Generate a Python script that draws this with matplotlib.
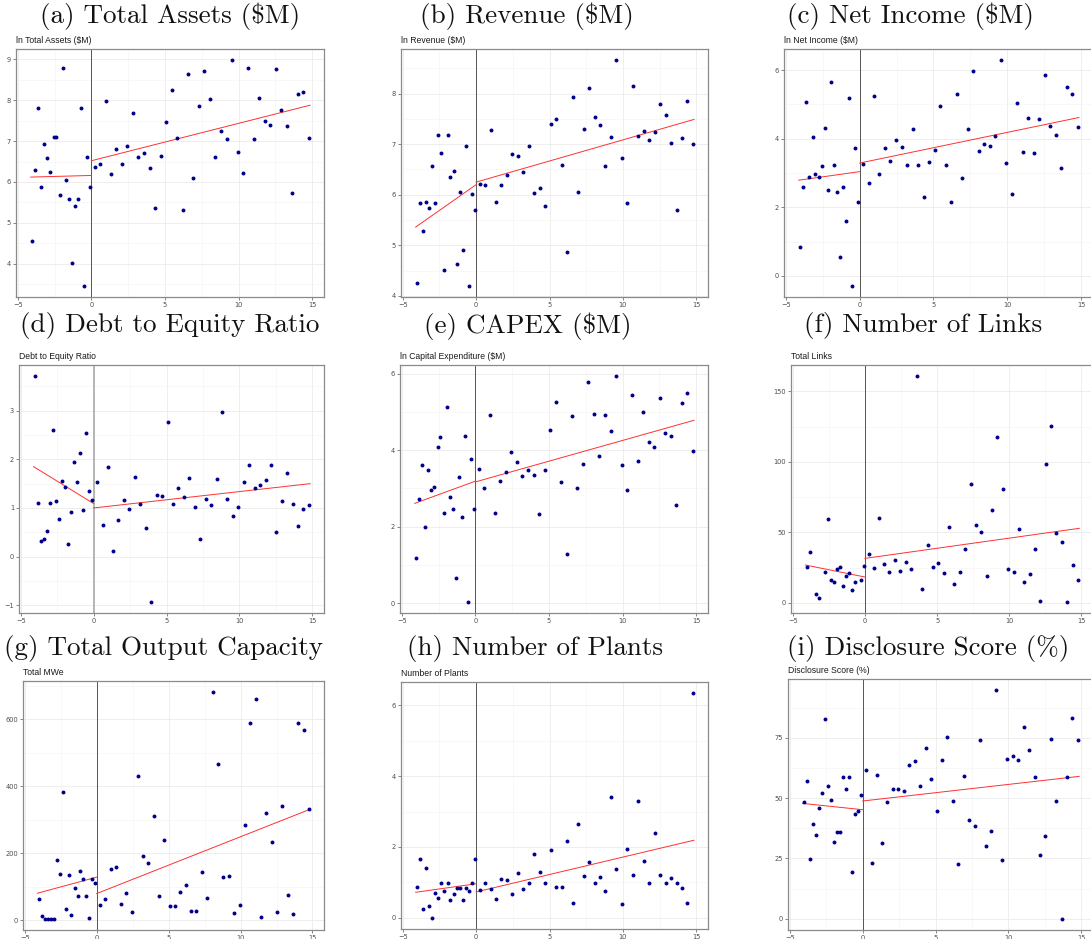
import numpy as np
import matplotlib
matplotlib.use("Agg")
import matplotlib.pyplot as plt
from matplotlib.ticker import MultipleLocator, AutoMinorLocator
from matplotlib.transforms import offset_copy

# ---------------- data ----------------
x_left = [-4.02, -3.81, -3.61, -3.40, -3.19, -2.99, -2.78, -2.57, -2.37, -2.16,
          -1.95, -1.75, -1.54, -1.33, -1.13, -0.92, -0.71, -0.51, -0.30, -0.09]
x_right = [0.25, 0.61, 0.98, 1.34, 1.70, 2.07, 2.45, 2.84, 3.20, 3.59,
           3.95, 4.34, 4.70, 5.07, 5.45, 5.82, 6.20, 6.57, 6.93, 7.32,
           7.68, 8.07, 8.43, 8.80, 9.18, 9.55, 9.93, 10.30, 10.66, 11.05,
           11.41, 11.80, 12.16, 12.52, 12.91, 13.27, 13.66, 14.02, 14.39, 14.77]
fit_x_left = [-4.12, 0.0]
fit_x_right = [0.0, 14.85]

titles = ["(a) Total Assets (\\$M)", "(b) Revenue (\\$M)", "(c) Net Income (\\$M)",
          "(d) Debt to Equity Ratio", "(e) CAPEX (\\$M)", "(f) Number of Links",
          "(g) Total Output Capacity", "(h) Number of Plants", "(i) Disclosure Score (%)"]
subtitles = ["ln Total Assets ($M)", "ln Revenue ($M)", "ln Net Income ($M)",
             "Debt to Equity Ratio", "ln Capital Expenditure ($M)", "Total Links",
             "Total MWe", "Number of Plants", "Disclosure Score (%)"]

a_left = [4.55, 6.29, 7.80, 5.87, 6.94, 6.59, 6.24, 7.10, 7.10, 5.69,
          8.80, 6.05, 5.59, 4.02, 5.40, 5.59, 7.80, 3.46, 6.61, 5.87]
a_right = [6.36, 6.45, 7.99, 6.20, 6.80, 6.44, 6.89, 7.68, 6.60, 6.72,
           6.35, 5.37, 6.64, 7.46, 8.25, 7.08, 5.32, 8.65, 6.09, 7.86,
           8.72, 8.03, 6.60, 7.25, 7.06, 8.98, 6.74, 6.23, 8.80, 7.05,
           8.05, 7.50, 7.39, 8.76, 7.76, 7.38, 5.72, 8.15, 8.20, 7.08]
a_fit = [6.12, 6.16, 6.52, 7.88]

b_left = [4.26, 5.84, 5.28, 5.86, 5.74, 6.57, 5.83, 7.19, 6.82, 4.52,
          7.19, 6.36, 6.46, 4.62, 6.06, 4.91, 6.97, 4.20, 6.01, 5.70]
b_right = [6.22, 6.19, 7.28, 5.85, 6.20, 6.39, 6.81, 6.76, 6.45, 6.96,
           6.03, 6.14, 5.78, 7.39, 7.50, 6.59, 4.86, 7.93, 6.06, 7.30,
           8.11, 7.53, 7.38, 6.57, 7.14, 8.66, 6.73, 5.83, 8.15, 7.17,
           7.26, 7.08, 7.24, 7.80, 7.57, 7.03, 5.70, 7.13, 7.86, 7.01]
b_fit = [5.36, 6.20, 6.25, 7.49]

c_left = [0.83, 2.59, 5.06, 2.87, 4.06, 2.98, 2.87, 3.19, 4.32, 2.51,
          5.65, 3.22, 2.45, 0.54, 2.60, 1.59, 5.20, -0.29, 3.74, 2.14]
c_right = [3.27, 2.71, 5.25, 2.97, 3.73, 3.36, 3.95, 3.77, 3.22, 4.29,
           3.22, 2.31, 3.33, 3.66, 4.97, 3.22, 2.16, 5.31, 2.86, 4.28,
           5.99, 3.65, 3.85, 3.80, 4.09, 6.29, 3.30, 2.38, 5.05, 3.62,
           4.60, 3.58, 4.57, 5.86, 4.37, 4.12, 3.14, 5.51, 5.31, 4.33]
c_fit = [2.79, 3.04, 3.29, 4.62]

d_left = [3.71, 1.10, 0.33, 0.36, 0.53, 1.11, 2.61, 1.15, 0.78, 1.55,
          1.43, 0.25, 0.91, 1.95, 1.54, 2.14, 0.95, 2.54, 1.34, 1.17]
d_right = [1.53, 0.65, 1.85, 0.11, 0.76, 1.17, 0.98, 1.63, 1.09, 0.58,
           -0.93, 1.26, 1.24, 2.77, 1.09, 1.42, 1.22, 1.62, 1.01, 0.36,
           1.19, 1.06, 1.59, 2.98, 1.19, 0.84, 1.01, 1.54, 1.88, 1.42,
           1.48, 1.57, 1.89, 0.51, 1.15, 1.71, 1.08, 0.63, 0.98, 1.06]
d_fit = [1.85, 1.09, 1.00, 1.50]

e_left = [1.17, 2.72, 3.60, 1.98, 3.47, 2.96, 3.03, 4.07, 4.34, 2.35,
          5.13, 2.77, 2.45, 0.66, 3.29, 2.26, 4.36, 0.04, 3.77, 2.47]
e_right = [3.52, 3.00, 4.91, 2.37, 3.19, 3.43, 3.96, 3.68, 3.33, 3.47,
           3.36, 2.32, 3.48, 4.52, 5.25, 3.16, 1.28, 4.89, 3.00, 3.64,
           5.77, 4.94, 3.85, 4.93, 4.50, 5.93, 3.60, 2.96, 5.44, 3.72,
           4.99, 4.20, 4.07, 5.36, 4.46, 4.38, 2.58, 5.23, 5.50, 3.97]
e_fit = [2.61, 3.19, 3.17, 4.78]

f_left = [25.7, 36.4, np.nan, 6.1, 3.5, np.nan, 21.7, 59.7, 16.3, 15.1,
          24.3, 25.7, 12.3, 18.9, 21.3, 9.2, 14.9, np.nan, 16.3, 26.4]
f_right = [34.5, 25.0, 60.0, 27.9, 21.7, 30.5, 22.9, 28.8, 23.9, 160.6,
           10.1, 40.9, 25.5, 28.6, 21.0, 54.1, 13.5, 22.2, 38.0, 84.6,
           55.5, 50.1, 19.1, 66.1, 117.4, 81.0, 24.1, 22.2, 52.7, 15.1,
           20.3, 38.5, 1.4, 98.5, 125.2, 49.6, 43.2, 0.9, 27.2, 16.5]
f_fit = [26.9, 18.4, 31.6, 52.9]

g_left = [64, 11, 4, 4, 4, 4, 178, 138, 381, 34,
          135, 16, 97, 71, 147, 122, 71, 6, 122, 112]
g_right = [46, 62, 152, 157, 48, 82, 24, 430, 191, 169,
           312, 72, 240, 41, 42, 84, 105, 28, 27, 142,
           65, 680, 466, 129, 130, 22, 46, 283, 588, 660,
           10, 319, 232, 25, 340, 74, 19, 587, 566, 332]
g_fit = [80, 128, 79, 331]

h_left = [0.86, 1.67, 0.25, 1.40, 0.33, 0.00, 0.71, 0.56, 0.99, 0.75,
          0.99, 0.49, 0.66, 0.83, 0.83, 0.49, 0.83, 0.75, 0.99, 1.67]
h_right = [0.79, 0.99, 0.81, 0.53, 1.10, 1.06, 0.66, 1.27, 0.80, 0.99,
           1.81, 1.29, 0.99, 1.91, 0.86, 0.86, 2.16, 0.42, 2.64, 1.17,
           1.58, 0.99, 1.16, 0.76, 3.41, 1.38, 0.39, 1.94, 1.21, 3.30,
           1.60, 0.99, 2.38, 1.21, 0.99, 1.12, 0.99, 0.83, 0.42, 6.34]
h_fit = [0.72, 0.96, 0.73, 2.19]

i_left = [48.3, 57.2, 24.9, 39.4, 34.7, 45.7, 52.2, 82.7, 55.0, 49.2,
          31.9, 35.8, 35.8, 58.8, 53.7, 58.8, 19.5, 43.6, 44.8, 51.1]
i_right = [61.5, 23.1, 59.5, 31.2, 48.5, 53.6, 53.6, 53.0, 63.7, 65.2,
           55.2, 70.7, 58.0, 44.5, 65.6, 75.1, 48.6, 22.8, 59.0, 41.0,
           38.5, 74.0, 30.1, 36.2, 94.6, 24.4, 66.0, 67.4, 65.6, 79.4,
           69.9, 58.7, 26.4, 34.5, 74.6, 48.9, 0.1, 58.8, 83.0, 74.2]
i_fit = [47.8, 45.2, 48.8, 59.0]

# ---------------- layout ----------------
W, H = 1091, 939
fig = plt.figure(figsize=(W / 100, H / 100), dpi=100)

panels = [
    (a_left, a_right, a_fit, 1.0),
    (b_left, b_right, b_fit, 1.0),
    (c_left, c_right, c_fit, 2.0),
    (d_left, d_right, d_fit, 1.0),
    (e_left, e_right, e_fit, 2.0),
    (f_left, f_right, f_fit, 50.0),
    (g_left, g_right, g_fit, 200.0),
    (h_left, h_right, h_fit, 2.0),
    (i_left, i_right, i_fit, 25.0),
]
# pixel boxes: left, top, right, bottom
boxes = [
    (16, 49, 324, 297), (401, 49, 708, 297), (784, 49, 1093, 297),
    (19, 365, 324, 613), (400, 365, 708, 613), (791, 365, 1093, 613),
    (23, 681, 324, 930), (401, 682, 708, 929), (788, 679, 1093, 930),
]
title_pos = [(170, 16), (527, 16), (910, 16),
             (170, 326), (528, 326), (923, 326),
             (164, 648), (535, 648), (928, 648)]

grid_col = "#ebebeb"
for k, ((yl, yr, fit, step), (L, T, R, B)) in enumerate(zip(panels, boxes)):
    ax = fig.add_axes([L / W, 1 - B / H, (R - L) / W, (B - T) / H])
    ax.scatter(x_left, yl, s=8, color="#00008B", zorder=4, linewidths=0)
    ax.scatter(x_right, yr, s=8, color="#00008B", zorder=4, linewidths=0)
    ax.plot(fit_x_left, fit[:2], color="#ff3030", lw=0.7, zorder=3)
    ax.plot(fit_x_right, fit[2:], color="#ff3030", lw=0.7, zorder=3)
    vcol = "#b0b0b0" if k == 3 else "#555555"
    vlw = 1.3 if k == 3 else 0.7
    ax.axvline(0, color=vcol, lw=vlw, zorder=2)
    ax.set_xlim(-5.12, 15.8)
    ax.xaxis.set_major_locator(MultipleLocator(5))
    ax.yaxis.set_major_locator(MultipleLocator(step))
    ax.xaxis.set_minor_locator(AutoMinorLocator(2))
    ax.yaxis.set_minor_locator(AutoMinorLocator(2))
    ax.grid(True, which="major", color=grid_col, lw=0.6, zorder=0)
    ax.grid(True, which="minor", color="#f4f4f4", lw=0.4, zorder=0)
    ax.set_axisbelow(True)
    ax.tick_params(which="major", length=2, width=0.5, color="#555555",
                   labelsize=4.8, labelcolor="#4d4d4d", pad=1.5)
    ax.tick_params(which="minor", length=0)
    for sp in ax.spines.values():
        sp.set_color("#8a8a8a")
        sp.set_linewidth(0.9)
    ax.set_facecolor("white")
    trans = offset_copy(ax.transAxes, fig=fig, x=0, y=3, units="points")
    ax.text(0, 1, subtitles[k], transform=trans, ha="left", va="bottom",
            fontsize=6.2, family="Liberation Sans", color="#1a1a1a")
    tx, ty = title_pos[k]
    fig.text(tx / W, 1 - ty / H, titles[k], ha="center", va="center",
             fontsize=19.5, family="cmr10", color="#111111")

fig.savefig("out.png", dpi=100)
